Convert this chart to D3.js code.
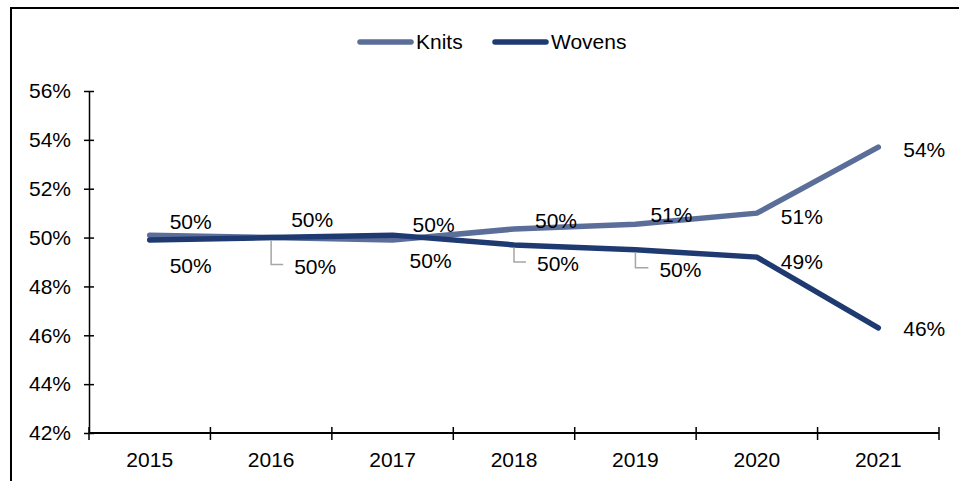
<!DOCTYPE html>
<html>
<head>
<meta charset="utf-8">
<script src="https://cdn.jsdelivr.net/npm/d3@7"></script>
<style>
  html, body { margin: 0; padding: 0; background: #ffffff; }
  svg { display: block; font-family: "Liberation Sans", Arial, sans-serif; }
</style>
</head>
<body>
<svg id="chart" width="959" height="481"></svg>
<script>
// Share of garment output by fabric type
const years = ["2015", "2016", "2017", "2018", "2019", "2020", "2021"];
const knits = [50.1, 50.0, 49.9, 50.35, 50.55, 51.0, 53.7];
const wovens = [49.9, 50.0, 50.1, 49.7, 49.5, 49.2, 46.3];
const yTicks = [42, 44, 46, 48, 50, 52, 54, 56];
const seriesNames = ["Knits", "Wovens"];

// Label placement relative to each point (pixels)
const knitsLabelOffsets = [[41, -13], [41, -18], [41, -15], [42, -8], [36, -9], [45, 4], [46, 2]];
const wovensLabelOffsets = [[41, 26], [44, 29], [38, 26], [44, 19], [45, 20], [45, 5], [46, 1]];
const wovensLeaders = [false, true, false, true, true, false, false];

const colors = { Knits: "#5b6e99", Wovens: "#1f3a70" };
const fontSize = 21;

const svg = d3.select("#chart");

// frame
svg.append("rect")
  .attr("x", 11).attr("y", 8)
  .attr("width", 1000).attr("height", 600)
  .attr("fill", "none").attr("stroke", "#000").attr("stroke-width", 2);

const x = d3.scaleBand().domain(years).range([89, 939]).paddingInner(0).paddingOuter(0);
const y = d3.scaleLinear().domain([42, 56]).range([433, 91]);
const cx = d => x(d) + x.bandwidth() / 2;

// y axis
const yAxis = svg.append("g").attr("transform", "translate(89,0)")
  .call(d3.axisLeft(y).tickValues(yTicks).tickFormat(d => d + "%").tickSize(5).tickSizeOuter(0));
yAxis.select(".domain").attr("stroke", "#000").attr("stroke-width", 1.5);
yAxis.selectAll(".tick line").attr("x1", -5).attr("x2", 5).attr("stroke", "#000").attr("stroke-width", 1.5);
yAxis.selectAll(".tick text").attr("x", -18).attr("font-size", fontSize).attr("fill", "#000")
  .attr("font-family", "Liberation Sans, Arial, sans-serif");

// x axis with ticks on category boundaries
const xAxis = svg.append("g").attr("transform", "translate(0,433)");
xAxis.append("line").attr("x1", 89).attr("x2", 939).attr("y1", 0).attr("y2", 0)
  .attr("stroke", "#000").attr("stroke-width", 2);
const bounds = years.map(d => x(d)).concat([x(years[years.length - 1]) + x.bandwidth()]);
xAxis.selectAll("line.tk").data(bounds).join("line").attr("class", "tk")
  .attr("x1", d => d).attr("x2", d => d).attr("y1", -6).attr("y2", 7)
  .attr("stroke", "#000").attr("stroke-width", 1.5);
xAxis.selectAll("text").data(years).join("text")
  .attr("x", d => cx(d)).attr("y", 34)
  .attr("text-anchor", "middle").attr("font-size", fontSize).attr("fill", "#000")
  .text(d => d);

// lines
const line = d3.line().x((d, i) => cx(years[i])).y(d => y(d));
const seriesData = { Knits: knits, Wovens: wovens };
seriesNames.forEach(name => {
  svg.append("path").datum(seriesData[name])
    .attr("d", line)
    .attr("fill", "none")
    .attr("stroke", colors[name])
    .attr("stroke-width", 5.5)
    .attr("stroke-linecap", "round")
    .attr("stroke-linejoin", "miter");
});

// leader lines for Wovens labels
years.forEach((yr, i) => {
  if (!wovensLeaders[i]) return;
  const px = cx(yr), py = y(wovens[i]);
  const [dx, dy] = wovensLabelOffsets[i];
  const ly = py + dy - 2;
  const lx = px + dx - 22 - 10;
  svg.append("path")
    .attr("d", `M${px},${py + 2.5}V${ly}H${lx}`)
    .attr("fill", "none").attr("stroke", "#a6a6a6").attr("stroke-width", 1.5);
});

// data labels
const fmt = v => Math.round(v) + "%";
function drawLabels(values, offsets) {
  svg.append("g").selectAll("text").data(values).join("text")
    .attr("x", (d, i) => cx(years[i]) + offsets[i][0])
    .attr("y", (d, i) => y(d) + offsets[i][1])
    .attr("dy", "0.35em")
    .attr("text-anchor", "middle")
    .attr("font-size", fontSize).attr("fill", "#000")
    .text(fmt);
}
drawLabels(knits, knitsLabelOffsets);
drawLabels(wovens, wovensLabelOffsets);

// legend
const legend = svg.append("g");
const legendItems = [
  { name: "Knits", x0: 358 },
  { name: "Wovens", x0: 493 }
];
legendItems.forEach(it => {
  legend.append("line").attr("x1", it.x0 + 2).attr("x2", it.x0 + 53)
    .attr("y1", 42).attr("y2", 42)
    .attr("stroke", colors[it.name]).attr("stroke-width", 5.5).attr("stroke-linecap", "round");
  legend.append("text").attr("x", it.x0 + 58).attr("y", 42).attr("dy", "0.35em")
    .attr("font-size", fontSize).attr("fill", "#000").text(it.name);
});
</script>
</body>
</html>
